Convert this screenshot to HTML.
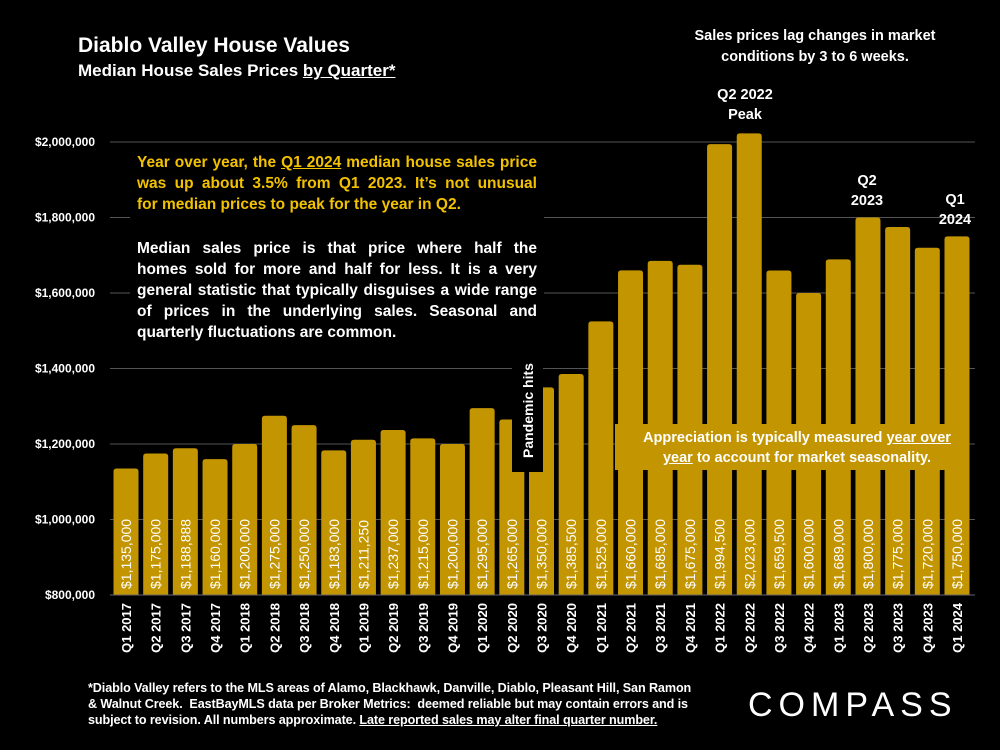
<!DOCTYPE html>
<html><head><meta charset="utf-8"><style>
html,body{margin:0;padding:0;background:#000;}
body{width:1000px;height:750px;overflow:hidden;position:relative;font-family:"Liberation Sans",sans-serif;color:#fff;}
.t{position:absolute;font-weight:bold;}
.j span{display:block;text-align:justify;text-align-last:justify;white-space:nowrap;}
.j span.last{text-align-last:left;}
.fn span{display:block;white-space:nowrap;}
</style></head><body>
<svg id="chart" width="1000" height="750" style="position:absolute;left:0;top:0" xmlns="http://www.w3.org/2000/svg"></svg>

<div class="t" style="left:78px;top:34px;font-size:21px;">Diablo Valley House Values</div>
<div class="t" style="left:78px;top:61px;font-size:17px;">Median House Sales Prices <u>by Quarter*</u></div>
<div class="t" style="left:660px;top:26px;width:310px;text-align:center;font-size:14.5px;line-height:21px;">Sales prices lag changes in market conditions by 3 to 6 weeks.</div>
<div class="t" style="left:700px;top:85px;width:90px;text-align:center;font-size:14.5px;line-height:20px;">Q2 2022<br>Peak</div>
<div class="t" style="left:830px;top:171px;width:74px;text-align:center;font-size:14.5px;line-height:20px;">Q2<br>2023</div>
<div class="t" style="left:920px;top:190px;width:70px;text-align:center;font-size:14.5px;line-height:20px;">Q1<br>2024</div>
<div class="t" style="left:130px;top:148px;width:414px;height:200px;background:#000;"></div>
<div class="t j" style="left:137px;top:152px;width:400px;font-size:15.5px;line-height:21px;color:#f2c200;"><span>Year over year, the <u>Q1 2024</u> median house sales price</span><span>was up about 3.5% from Q1 2023. It’s not unusual</span><span class="last">for median prices to peak for the year in Q2.</span></div>
<div class="t j" style="left:137px;top:238px;width:400px;font-size:15.5px;line-height:21px;"><span>Median sales price is that price where half the</span><span>homes sold for more and half for less. It is a very</span><span>general statistic that typically disguises a wide range</span><span>of prices in the underlying sales. Seasonal and</span><span class="last">quarterly fluctuations are common.</span></div>
<div class="t" style="left:615px;top:424px;width:352px;height:46px;background:#c39500;font-size:14.5px;line-height:20px;padding:4px 10px 0 22px;box-sizing:border-box;text-align:center;">Appreciation is typically measured <u>year over</u> <u>year</u> to account for market seasonality.</div>
<div class="t fn" style="left:88px;top:680px;font-size:12.6px;line-height:16px;letter-spacing:-0.1px;"><span>*Diablo Valley refers to the MLS areas of Alamo, Blackhawk, Danville, Diablo, Pleasant Hill, San Ramon</span><span>&amp; Walnut Creek.&nbsp; EastBayMLS data per Broker Metrics:&nbsp; deemed reliable but may contain errors and is</span><span>subject to revision. All numbers approximate. <u>Late reported sales may alter final quarter number.</u></span></div>
<div class="t" style="left:748px;top:686px;font-size:34px;font-weight:normal;letter-spacing:6px;">COMPASS</div>

<script>
const categories=["Q1 2017","Q2 2017","Q3 2017","Q4 2017","Q1 2018","Q2 2018","Q3 2018","Q4 2018","Q1 2019","Q2 2019","Q3 2019","Q4 2019","Q1 2020","Q2 2020","Q3 2020","Q4 2020","Q1 2021","Q2 2021","Q3 2021","Q4 2021","Q1 2022","Q2 2022","Q3 2022","Q4 2022","Q1 2023","Q2 2023","Q3 2023","Q4 2023","Q1 2024"];
const prices=[1135000,1175000,1188888,1160000,1200000,1275000,1250000,1183000,1211250,1237000,1215000,1200000,1295000,1265000,1350000,1385500,1525000,1660000,1685000,1675000,1994500,2023000,1659500,1600000,1689000,1800000,1775000,1720000,1750000];
const tickValues=[800000,1000000,1200000,1400000,1600000,1800000,2000000];
const NS="http://www.w3.org/2000/svg";
const svg=document.getElementById('chart');
const yMin=800000,yMax=2000000,y0=595,y1=142;
function yScale(v){return y0-(v-yMin)/(yMax-yMin)*(y0-y1);}
const xStart=126,xStep=(957-126)/(categories.length-1),bw=25;
function xScale(i){return xStart+i*xStep;}
function fmt(v){return '$'+v.toLocaleString('en-US');}
function mk(tag,attrs){const e=document.createElementNS(NS,tag);for(const k in attrs)e.setAttribute(k,attrs[k]);svg.appendChild(e);return e;}
tickValues.forEach(v=>{
  const g=mk('line',{x1:110,x2:975,y1:yScale(v),y2:yScale(v),stroke:'#555','stroke-width':1});
  
  
  const t=mk('text',{x:95,y:yScale(v)+4,'text-anchor':'end',fill:'#fff','font-size':'12','font-weight':'bold','font-family':'Liberation Sans, sans-serif'});
  t.textContent=fmt(v);
  
  
});
prices.forEach((v,i)=>{
  const x=xScale(i)-bw/2,y=yScale(v);
  const b=mk('path',{d:`M${x},${y0} V${y+3} Q${x},${y} ${x+3},${y} H${x+bw-3} Q${x+bw},${y} ${x+bw},${y+3} V${y0} Z`,fill:'#c39500'});
  
  
  const l=mk('text',{x:0,y:0,transform:`translate(${xScale(i)+5},${y0-6}) rotate(-90)`,fill:'#fff','font-size':'14','font-family':'Liberation Sans, sans-serif'});
  l.textContent=fmt(v);
  
  
  const c=mk('text',{x:0,y:0,transform:`translate(${xScale(i)+5},${603}) rotate(-90)`,'text-anchor':'end',fill:'#fff','font-size':'13','font-weight':'bold','font-family':'Liberation Sans, sans-serif'});
  c.textContent=categories[i];
  
  
});
const ax=mk('line',{x1:110,x2:975,y1:y0,y2:y0,stroke:'#666','stroke-width':1});


const pb=mk('rect',{x:512,y:350,width:31,height:122,fill:'#000'});


const pt=mk('text',{x:0,y:0,transform:'translate(533,458) rotate(-90)',fill:'#fff','font-size':'14','font-weight':'bold','font-family':'Liberation Sans, sans-serif'});
pt.textContent='Pandemic hits';


</script>
</body></html>
